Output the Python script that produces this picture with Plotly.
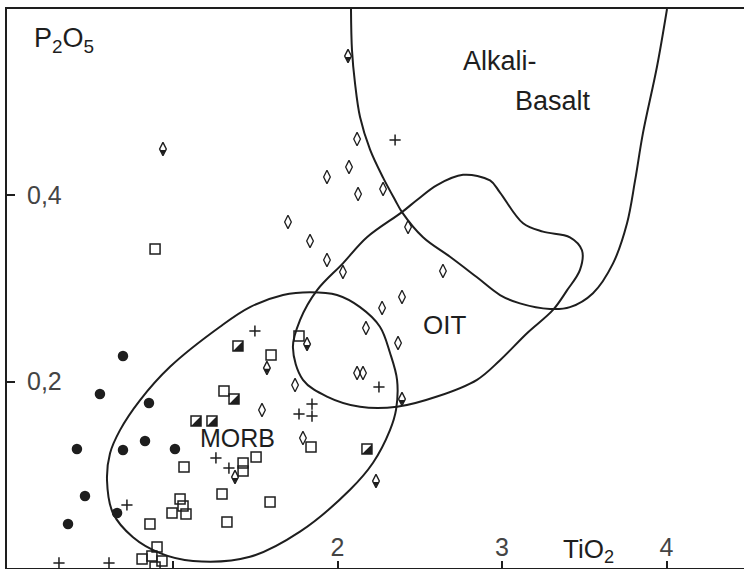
import plotly.graph_objects as go

# ---------------- figure geometry ----------------
W, H = 744, 569
ML, MR, MT, MB = 7, 0, 9, 1
X_RANGE = [-0.009, 4.471]
Y_RANGE = [0.0, 0.6]
DX = (X_RANGE[1] - X_RANGE[0]) / (W - ML - MR)   # data units per pixel (x)
DY = (Y_RANGE[1] - Y_RANGE[0]) / (H - MT - MB)   # data units per pixel (y)

# ---------------- field boundaries (TiO2, P2O5) ----------------
alkali_x = [2.082, 2.088, 2.106, 2.137, 2.198, 2.277, 2.350, 2.392, 2.520, 2.684,
            2.848, 2.988, 3.109, 3.292, 3.413, 3.553, 3.675, 3.760, 3.809, 3.857,
            3.942, 4.003]
alkali_y = [0.600, 0.556, 0.521, 0.484, 0.449, 0.419, 0.395, 0.382, 0.355, 0.334,
            0.312, 0.293, 0.284, 0.278, 0.280, 0.295, 0.327, 0.370, 0.416, 0.467,
            0.538, 0.600]

oit_x = [2.763, 2.927, 2.988, 3.128, 3.249, 3.413, 3.486, 3.474, 3.395, 3.310,
         3.152, 2.988, 2.848, 2.605, 2.362, 2.137, 1.936, 1.790, 1.729, 1.772,
         1.875, 2.033, 2.179, 2.392, 2.483, 2.605, 2.763]
oit_y = [0.422, 0.416, 0.403, 0.370, 0.361, 0.355, 0.341, 0.320, 0.298, 0.277,
         0.252, 0.223, 0.202, 0.184, 0.173, 0.173, 0.184, 0.202, 0.237, 0.266,
         0.298, 0.327, 0.355, 0.382, 0.395, 0.411, 0.422]

morb_x = [1.833, 1.997, 2.137, 2.258, 2.319, 2.362, 2.356, 2.319, 2.216, 2.076,
          1.772, 1.468, 1.122, 0.921, 0.757, 0.635, 0.599, 0.617, 0.678, 0.799,
          0.982, 1.286, 1.468, 1.669, 1.833]
morb_y = [0.296, 0.293, 0.280, 0.259, 0.231, 0.202, 0.170, 0.148, 0.113, 0.084,
          0.039, 0.012, 0.0075, 0.016, 0.033, 0.059, 0.094, 0.123, 0.148, 0.180,
          0.216, 0.259, 0.280, 0.293, 0.296]

# ---------------- samples ----------------
circle_x = [0.696, 0.556, 0.854, 0.416, 0.696, 0.830, 1.012, 0.465, 0.660, 0.362]
circle_y = [0.2275, 0.1868, 0.1771, 0.1277, 0.1266, 0.1363, 0.1277, 0.0773, 0.0590, 0.0472]

square_x = [0.891, 1.310, 1.596, 1.766, 1.426, 1.505, 1.426, 1.839, 1.067, 1.043,
            0.994, 1.079, 1.061, 0.860, 1.298, 1.328, 1.590, 0.903, 0.812, 0.872,
            0.933, 0.891]
square_y = [0.3424, 0.1900, 0.2286, 0.2490, 0.1127, 0.1191, 0.1041, 0.1299, 0.1084, 0.0741,
            0.0590, 0.0580, 0.0665, 0.0472, 0.0794, 0.0494, 0.0708, 0.0225, 0.0097, 0.0129,
            0.0075, 0.0010]

halfsq_x = [1.395, 1.371, 1.140, 1.237, 2.179]
halfsq_y = [0.2383, 0.1814, 0.1578, 0.1578, 0.1277]

diamond_x = [2.119, 2.070, 1.936, 2.125, 2.277, 1.699, 1.833, 1.936, 2.033, 2.429,
             2.641, 2.392, 2.271, 2.173, 2.368, 2.119, 2.155, 1.742, 1.541, 1.790]
diamond_y = [0.4604, 0.4304, 0.4197, 0.4014, 0.4068, 0.3714, 0.3510, 0.3306, 0.3177, 0.3660,
             0.3188, 0.2909, 0.2791, 0.2576, 0.2415, 0.2093, 0.2093, 0.1964, 0.1696, 0.1395]

halfdia_x = [0.939, 2.064, 1.815, 1.571, 2.392, 2.234, 1.377]
halfdia_y = [0.4497, 0.5495, 0.2404, 0.2147, 0.1814, 0.0934, 0.0977]

plus_x = [2.350, 1.498, 1.261, 1.340, 0.720, 0.307, 0.611, 2.252, 1.845, 1.766, 1.845]
plus_y = [0.4594, 0.2544, 0.1181, 0.1073, 0.0676, 0.0054, 0.0054, 0.1943, 0.1760, 0.1653, 0.1631]

# ---------------- axes ticks ----------------
x_tickvals = [2, 3, 4]
x_ticktext = ["2", "3", "4"]
x_unlabelled_ticks = [1]
y_tickvals = [0.2, 0.4]
y_ticktext = ["0,2", "0,4"]

INK = "#1e1e1e"
FONT = "Liberation Sans, Arial, sans-serif"

fig = go.Figure()

# field boundaries
for xs, ys in [(alkali_x, alkali_y), (oit_x, oit_y), (morb_x, morb_y)]:
    fig.add_trace(go.Scatter(x=xs, y=ys, mode="lines",
                             line=dict(color=INK, width=2, shape="spline", smoothing=1.0),
                             hoverinfo="skip", showlegend=False))

# filled circles
fig.add_trace(go.Scatter(x=circle_x, y=circle_y, mode="markers",
                         marker=dict(symbol="circle", size=10.5, color=INK, line=dict(width=0)),
                         showlegend=False))

# open squares
fig.add_trace(go.Scatter(x=square_x, y=square_y, mode="markers",
                         marker=dict(symbol="square-open", size=10, color=INK, line=dict(width=1.5)),
                         showlegend=False))

# half filled squares: filled lower-right triangle + outline
fig.add_trace(go.Scatter(x=[v + 1.7 * DX for v in halfsq_x], y=[v - 1.7 * DY for v in halfsq_y],
                         mode="markers",
                         marker=dict(symbol="triangle-se", size=11, color=INK, line=dict(width=0)),
                         showlegend=False, hoverinfo="skip"))
fig.add_trace(go.Scatter(x=halfsq_x, y=halfsq_y, mode="markers",
                         marker=dict(symbol="square-open", size=10, color=INK, line=dict(width=1.5)),
                         showlegend=False))

# open diamonds
fig.add_trace(go.Scatter(x=diamond_x, y=diamond_y, mode="markers",
                         marker=dict(symbol="diamond-tall-open", size=9.5, color=INK, line=dict(width=1.3)),
                         showlegend=False))

# half filled diamonds: filled lower part + outline
fig.add_trace(go.Scatter(x=halfdia_x, y=[v - 2.4 * DY for v in halfdia_y], mode="markers",
                         marker=dict(symbol="triangle-down", size=6, color=INK, line=dict(width=0)),
                         showlegend=False, hoverinfo="skip"))
fig.add_trace(go.Scatter(x=halfdia_x, y=halfdia_y, mode="markers",
                         marker=dict(symbol="diamond-tall-open", size=9.5, color=INK, line=dict(width=1.4)),
                         showlegend=False))

# plus signs
fig.add_trace(go.Scatter(x=plus_x, y=plus_y, mode="markers",
                         marker=dict(symbol="cross-thin-open", size=8, color=INK, line=dict(width=1.5, color=INK)),
                         showlegend=False))


def px(xp):
    return (xp - ML) / (W - ML - MR)


def py(yp):
    return (H - MB - yp) / (H - MT - MB)


labels = [
    ("P<sub>2</sub>O<sub>5</sub>", 32, 40, 27),
    ("Alkali-", 461, 61, 27),
    ("Basalt", 513, 101, 27),
    ("OIT", 421, 325, 26),
    ("MORB", 198, 438, 25),
    ("TiO<sub>2</sub>", 561, 550, 26),
]
for txt, xp, yp, fs in labels:
    fig.add_annotation(text=txt, xref="paper", yref="paper", x=px(xp), y=py(yp),
                       xanchor="left", yanchor="middle", showarrow=False,
                       font=dict(family=FONT, size=fs, color=INK))

fig.update_layout(
    width=W, height=H,
    margin=dict(l=ML, r=MR, t=MT, b=MB, pad=0),
    paper_bgcolor="white", plot_bgcolor="white",
    showlegend=False,
    font=dict(family=FONT, size=25, color=INK),
    xaxis=dict(range=X_RANGE, showgrid=False, zeroline=False,
               showline=True, linecolor=INK, linewidth=2, mirror=True,
               ticks="inside", ticklen=7, tickwidth=1.5, tickcolor=INK,
               tickvals=x_tickvals, ticktext=x_ticktext,
               minor=dict(tickvals=x_unlabelled_ticks, ticks="inside", ticklen=7,
                          tickwidth=1.5, tickcolor=INK, showgrid=False),
               ticklabelposition="inside", ticklabelstandoff=2),
    yaxis=dict(range=Y_RANGE, showgrid=False, zeroline=False,
               showline=True, linecolor=INK, linewidth=2,
               ticks="inside", ticklen=8, tickwidth=1.5, tickcolor=INK,
               tickvals=y_tickvals, ticktext=y_ticktext,
               ticklabelposition="inside", ticklabelstandoff=14),
)

fig.write_html("out.html")
